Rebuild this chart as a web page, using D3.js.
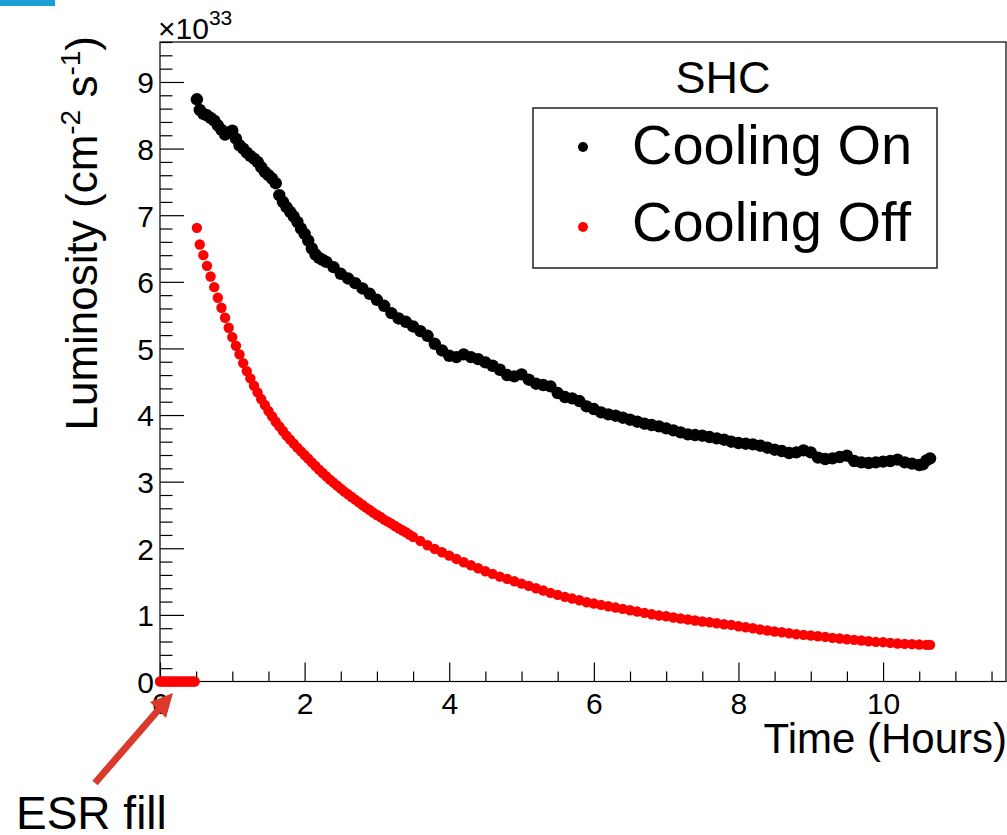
<!DOCTYPE html>
<html><head><meta charset="utf-8">
<script src="https://cdn.jsdelivr.net/npm/d3@7"></script>
<style>
html,body{margin:0;padding:0;background:#fff;}
svg{display:block;}
text{font-family:"Liberation Sans",Arial,Helvetica,sans-serif;fill:#000;}
</style>
</head><body>
<svg id="c" width="1007" height="835"></svg>
<script>
// ---- data, luminosity in units of 1e33 cm^-2 s^-1 ----
const onTime = [0.51,0.55,0.60,0.65,0.70,0.75,0.80,0.85,0.90,0.95,1.00,1.05,1.10,1.15,1.20,1.25,1.30,1.35,1.40,1.45,1.50,1.55,1.60,1.65,1.70,1.75,1.80,1.85,1.90,1.95,2.00,2.05,2.10,2.15,2.20,2.25,2.30,2.40,2.50,2.60,2.70,2.80,2.90,3.00,3.10,3.20,3.30,3.40,3.50,3.60,3.70,3.80,3.90,4.00,4.10,4.20,4.30,4.40,4.50,4.60,4.70,4.80,4.90,5.00,5.10,5.20,5.30,5.40,5.50,5.60,5.70,5.80,5.90,6.00,6.10,6.20,6.30,6.40,6.50,6.60,6.70,6.80,6.90,7.00,7.10,7.20,7.30,7.40,7.50,7.60,7.70,7.80,7.90,8.00,8.10,8.20,8.30,8.40,8.50,8.60,8.70,8.80,8.90,9.00,9.10,9.20,9.30,9.40,9.50,9.60,9.70,9.80,9.90,10.00,10.10,10.20,10.30,10.40,10.50,10.55,10.60,10.65];
const onLum = [8.74,8.58,8.52,8.50,8.46,8.42,8.35,8.28,8.21,8.24,8.27,8.15,8.05,8.00,7.94,7.89,7.85,7.80,7.72,7.65,7.60,7.55,7.48,7.30,7.20,7.12,7.05,6.98,6.90,6.80,6.72,6.62,6.50,6.41,6.36,6.33,6.30,6.22,6.12,6.05,5.98,5.90,5.82,5.73,5.64,5.53,5.45,5.40,5.33,5.26,5.19,5.07,4.97,4.89,4.87,4.91,4.87,4.84,4.79,4.74,4.68,4.60,4.58,4.61,4.53,4.47,4.45,4.43,4.33,4.27,4.25,4.21,4.13,4.09,4.04,4.01,3.99,3.96,3.93,3.90,3.87,3.85,3.83,3.80,3.77,3.74,3.71,3.70,3.69,3.67,3.65,3.63,3.60,3.58,3.57,3.56,3.54,3.51,3.48,3.46,3.43,3.44,3.47,3.44,3.36,3.34,3.35,3.37,3.39,3.31,3.29,3.28,3.29,3.30,3.31,3.33,3.29,3.27,3.25,3.26,3.32,3.35];

const offTime = [0.00,0.03,0.06,0.09,0.12,0.15,0.18,0.21,0.24,0.27,0.30,0.33,0.36,0.39,0.42,0.45,0.48,0.51,0.55,0.60,0.65,0.70,0.75,0.80,0.85,0.90,0.95,1.00,1.05,1.10,1.15,1.20,1.25,1.30,1.35,1.40,1.45,1.50,1.55,1.60,1.65,1.70,1.75,1.80,1.85,1.90,1.95,2.00,2.05,2.10,2.15,2.20,2.25,2.30,2.35,2.40,2.45,2.50,2.55,2.60,2.65,2.70,2.75,2.80,2.85,2.90,2.95,3.00,3.05,3.10,3.15,3.20,3.25,3.30,3.35,3.40,3.45,3.50,3.60,3.70,3.80,3.90,4.00,4.10,4.20,4.30,4.40,4.50,4.60,4.70,4.80,4.90,5.00,5.10,5.20,5.30,5.40,5.50,5.60,5.70,5.80,5.90,6.00,6.10,6.20,6.30,6.40,6.50,6.60,6.70,6.80,6.90,7.00,7.10,7.20,7.30,7.40,7.50,7.60,7.70,7.80,7.90,8.00,8.10,8.20,8.30,8.40,8.50,8.60,8.70,8.80,8.90,9.00,9.10,9.20,9.30,9.40,9.50,9.60,9.70,9.80,9.90,10.00,10.10,10.20,10.30,10.40,10.50,10.60,10.65];
const offLum = [0,0,0,0,0,0,0,0,0,0,0,0,0,0,0,0,0,6.81,6.56,6.40,6.24,6.08,5.92,5.76,5.61,5.46,5.31,5.17,5.04,4.91,4.78,4.66,4.55,4.44,4.34,4.24,4.15,4.06,3.98,3.90,3.83,3.76,3.69,3.63,3.57,3.51,3.455,3.40,3.345,3.29,3.235,3.18,3.13,3.08,3.03,2.985,2.94,2.895,2.85,2.81,2.77,2.73,2.69,2.65,2.61,2.575,2.535,2.50,2.47,2.43,2.40,2.37,2.335,2.30,2.27,2.24,2.205,2.17,2.11,2.045,1.99,1.94,1.89,1.84,1.79,1.745,1.70,1.655,1.615,1.575,1.54,1.505,1.47,1.435,1.40,1.365,1.33,1.30,1.27,1.245,1.22,1.19,1.17,1.15,1.13,1.11,1.09,1.07,1.05,1.03,1.01,0.99,0.98,0.96,0.945,0.93,0.915,0.90,0.89,0.875,0.86,0.85,0.83,0.815,0.80,0.78,0.765,0.75,0.74,0.725,0.71,0.70,0.69,0.68,0.67,0.655,0.645,0.635,0.625,0.615,0.605,0.595,0.59,0.58,0.57,0.565,0.56,0.555,0.55,0.55];

const xTickValues = [0,2,4,6,8,10];
const yTickValues = [0,1,2,3,4,5,6,7,8,9];
const seriesNames = ["Cooling On","Cooling Off"];
const seriesColors = ["#000000","#ff0000"];
const legendTitle = "SHC";
const xTitle = "Time (Hours)";
const annotationText = "ESR fill";

// ---- layout ----
const svg = d3.select("#c");
const L = 160, R = 1006, T = 42, B = 681.5;
const x = d3.scaleLinear().domain([0, 11.7]).range([L, R]);
const y = d3.scaleLinear().domain([0, 9.6]).range([B, T]);

// blue corner bar
svg.append("rect").attr("x",0).attr("y",0).attr("width",55).attr("height",6).attr("fill","#1a9fd6");

// minor ticks
const xMinor = d3.range(0, 11.7, 0.5).filter(v => v % 2 !== 0);
const yMinor = d3.range(0, 9.61, 0.2).map(v => +v.toFixed(1)).filter(v => Math.abs(v - Math.round(v)) > 1e-6);

function styleAxis(g){
  g.select(".domain").remove();
  g.selectAll("line").attr("stroke","#000").attr("stroke-width",1.2);
  g.selectAll("text").attr("font-size",30).attr("font-family",'"Liberation Sans",Arial,sans-serif').attr("fill","#000");
}

svg.append("g").attr("transform",`translate(0,${B})`)
  .call(d3.axisBottom(x).tickValues(xMinor).tickSize(-10).tickFormat(""))
  .call(styleAxis);
svg.append("g").attr("transform",`translate(0,${B})`)
  .call(d3.axisBottom(x).tickValues(xTickValues).tickSize(-19).tickPadding(11).tickFormat(d3.format("d")))
  .call(styleAxis);
svg.append("g").attr("transform",`translate(${L},0)`)
  .call(d3.axisLeft(y).tickValues(yMinor).tickSize(-12.5).tickFormat(""))
  .call(styleAxis);
svg.append("g").attr("transform",`translate(${L},0)`)
  .call(d3.axisLeft(y).tickValues(yTickValues).tickSize(-24).tickPadding(6).tickFormat(d3.format("d")))
  .call(styleAxis)
  .selectAll("text").attr("dy","0.36em");

// frame
svg.append("rect").attr("x",L).attr("y",T).attr("width",R-L).attr("height",B-T)
  .attr("fill","none").attr("stroke","#000").attr("stroke-width",1.2);

// exponent label
const ex = svg.append("text").attr("x",158).attr("y",39).attr("font-size",30);
ex.append("tspan").text("×10");
ex.append("tspan").attr("font-size",21).attr("dy",-14).text("33");

// axis titles
svg.append("text").attr("x",1007).attr("y",753).attr("text-anchor","end").attr("font-size",42).text(xTitle);
const yt = svg.append("text").attr("transform","translate(97,36) rotate(-90)").attr("text-anchor","end").attr("font-size",44);
yt.append("tspan").text("Luminosity (cm");
yt.append("tspan").attr("font-size",28).attr("dy",-17).text("-2");
yt.append("tspan").attr("dy",17).text(" s");
yt.append("tspan").attr("font-size",28).attr("dy",-17).text("-1");
yt.append("tspan").attr("dy",17).text(")");

// data points
const series = [
  {name: seriesNames[0], color: seriesColors[0], r: 6.2, pts: onTime.map((t,i)=>({t, v:onLum[i]}))},
  {name: seriesNames[1], color: seriesColors[1], r: 5.2, pts: offTime.map((t,i)=>({t, v:offLum[i]}))}
];
series.forEach(s => {
  svg.append("g").selectAll("circle").data(s.pts).join("circle")
    .attr("cx", d => x(d.t)).attr("cy", d => y(d.v)).attr("r", s.r).attr("fill", s.color);
});

// legend
svg.append("text").attr("x",723).attr("y",93).attr("text-anchor","middle").attr("font-size",45).text(legendTitle);
const lg = svg.append("g");
lg.append("rect").attr("x",533).attr("y",108).attr("width",404).attr("height",160)
  .attr("fill","#fff").attr("stroke","#222").attr("stroke-width",1.5);
const legY = [147, 227], legBase = [164, 241];
series.forEach((s,i) => {
  lg.append("circle").attr("cx",583).attr("cy",legY[i]).attr("r",5).attr("fill",s.color);
  lg.append("text").attr("x",632).attr("y",legBase[i]).attr("font-size",56).text(s.name);
});

// annotation arrow + text
const arrowColor = "#d93a2c";
svg.append("line").attr("x1",95).attr("y1",783).attr("x2",160).attr("y2",708)
  .attr("stroke",arrowColor).attr("stroke-width",7);
svg.append("polygon").attr("points","173,693 150,702 166,718").attr("fill",arrowColor);
svg.append("text").attr("x",16).attr("y",829).attr("font-size",46).text(annotationText);
</script>
</body></html>
